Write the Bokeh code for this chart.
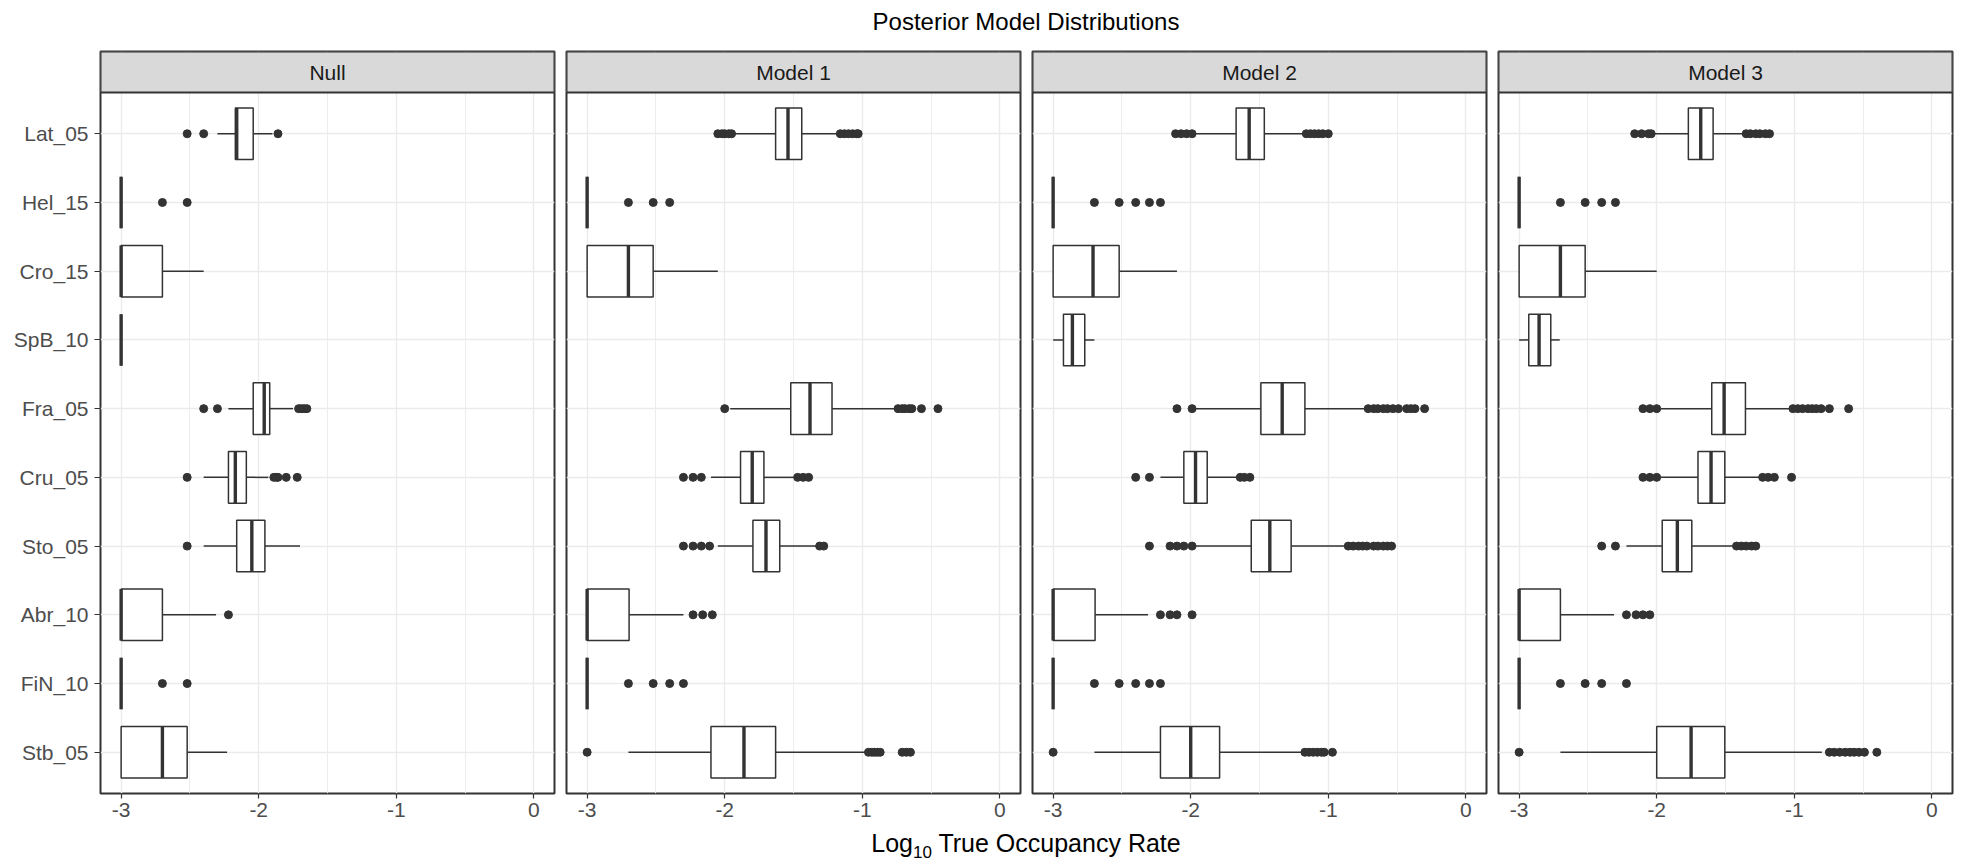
from bokeh.plotting import figure
from bokeh.models import FixedTicker, BoxAnnotation, Label, Div, Range1d
from bokeh.layouts import row, column
from bokeh.embed import file_html
from bokeh.resources import INLINE

# ---------------- data ----------------
categories = ["Lat_05", "Hel_15", "Cro_15", "SpB_10", "Fra_05",
              "Cru_05", "Sto_05", "Abr_10", "FiN_10", "Stb_05"]   # top -> bottom
models = ["Null", "Model 1", "Model 2", "Model 3"]
x_ticks = [-3, -2, -1, 0]
x_tick_labels = ["-3", "-2", "-1", "0"]
x_minor = [-2.5, -1.5, -0.5]

null_lo  = [-2.30, -3.00, -3.00, -3.00, -2.22, -2.40, -2.40, -3.00, -3.00, -3.00]
null_q1  = [-2.17, -3.00, -3.00, -3.00, -2.04, -2.22, -2.16, -3.00, -3.00, -3.00]
null_med = [-2.16, -3.00, -3.00, -3.00, -1.96, -2.17, -2.05, -3.00, -3.00, -2.70]
null_q3  = [-2.04, -3.00, -2.70, -3.00, -1.92, -2.09, -1.955, -2.70, -3.00, -2.52]
null_hi  = [-1.90, -3.00, -2.40, -3.00, -1.75, -1.93, -1.70, -2.31, -3.00, -2.23]
null_out = [[-2.52, -2.40, -1.86], [-2.70, -2.52], [], [],
            [-2.40, -2.30, -1.71, -1.69, -1.67, -1.65],
            [-2.52, -1.89, -1.87, -1.86, -1.80, -1.72], [-2.52], [-2.22],
            [-2.70, -2.52], []]

m1_lo  = [-1.94, -3.00, -3.00, None, -1.96, -2.10, -2.05, -3.00, -3.00, -2.70]
m1_q1  = [-1.63, -3.00, -3.00, None, -1.52, -1.885, -1.795, -3.00, -3.00, -2.10]
m1_med = [-1.54, -3.00, -2.70, None, -1.38, -1.80, -1.70, -3.00, -3.00, -1.86]
m1_q3  = [-1.44, -3.00, -2.52, None, -1.22, -1.715, -1.60, -2.695, -3.00, -1.63]
m1_hi  = [-1.17, -3.00, -2.05, None, -0.76, -1.49, -1.33, -2.30, -3.00, -0.97]
m1_out = [[-2.05, -2.02, -2.00, -1.97, -1.95, -1.16, -1.13, -1.10, -1.07, -1.04, -1.03],
          [-2.70, -2.52, -2.40], [], [],
          [-2.00, -0.74, -0.71, -0.69, -0.66, -0.64, -0.57, -0.45],
          [-2.30, -2.23, -2.17, -1.47, -1.43, -1.39],
          [-2.30, -2.23, -2.17, -2.11, -1.31, -1.28],
          [-2.23, -2.16, -2.09],
          [-2.70, -2.52, -2.40, -2.30],
          [-3.00, -0.955, -0.93, -0.91, -0.89, -0.87, -0.71, -0.68, -0.65]]

m2_lo  = [-1.98, -3.00, -3.00, -3.00, -1.98, -2.22, -1.98, -3.00, -3.00, -2.70]
m2_q1  = [-1.67, -3.00, -3.00, -2.925, -1.49, -2.05, -1.56, -3.00, -3.00, -2.22]
m2_med = [-1.575, -3.00, -2.71, -2.86, -1.335, -1.965, -1.425, -3.00, -3.00, -2.00]
m2_q3  = [-1.465, -3.00, -2.52, -2.77, -1.17, -1.88, -1.27, -2.695, -3.00, -1.79]
m2_hi  = [-1.17, -3.00, -2.10, -2.70, -0.71, -1.655, -0.87, -2.31, -3.00, -1.18]
m2_out = [[-2.11, -2.07, -2.03, -1.99, -1.16, -1.13, -1.10, -1.07, -1.04, -1.00],
          [-2.70, -2.52, -2.40, -2.30, -2.22], [], [],
          [-2.10, -1.99, -0.71, -0.67, -0.64, -0.60, -0.57, -0.53, -0.49,
           -0.43, -0.40, -0.37, -0.30],
          [-2.40, -2.30, -1.64, -1.61, -1.57],
          [-2.30, -2.15, -2.10, -2.05, -1.99, -0.855, -0.82, -0.78, -0.75, -0.72,
           -0.67, -0.64, -0.60, -0.57, -0.54],
          [-2.22, -2.15, -2.10, -1.99],
          [-2.70, -2.52, -2.40, -2.30, -2.22],
          [-3.00, -1.17, -1.14, -1.11, -1.08, -1.05, -1.03, -0.97]]

m3_lo  = [-2.015, -3.00, -3.00, -3.00, -1.97, -1.97, -2.22, -3.00, -3.00, -2.70]
m3_q1  = [-1.77, -3.00, -3.00, -2.93, -1.60, -1.70, -1.96, -3.00, -3.00, -2.00]
m3_med = [-1.68, -3.00, -2.70, -2.855, -1.51, -1.605, -1.85, -3.00, -3.00, -1.75]
m3_q3  = [-1.59, -3.00, -2.52, -2.77, -1.355, -1.505, -1.745, -2.70, -3.00, -1.505]
m3_hi  = [-1.36, -3.00, -2.00, -2.705, -1.02, -1.245, -1.44, -2.31, -3.00, -0.80]
m3_out = [[-2.16, -2.11, -2.06, -2.04, -1.35, -1.32, -1.28, -1.25, -1.21, -1.18],
          [-2.70, -2.52, -2.40, -2.30], [], [],
          [-2.10, -2.05, -2.00, -1.01, -0.975, -0.94, -0.90, -0.87, -0.84, -0.805,
           -0.745, -0.605],
          [-2.10, -2.05, -2.00, -1.23, -1.19, -1.145, -1.02],
          [-2.40, -2.30, -1.42, -1.385, -1.35, -1.31, -1.28],
          [-2.22, -2.15, -2.10, -2.05],
          [-2.70, -2.52, -2.40, -2.22],
          [-3.00, -0.745, -0.71, -0.67, -0.63, -0.595, -0.565, -0.53, -0.49, -0.40]]

stats = [
    (null_lo, null_q1, null_med, null_q3, null_hi, null_out),
    (m1_lo, m1_q1, m1_med, m1_q3, m1_hi, m1_out),
    (m2_lo, m2_q1, m2_med, m2_q3, m2_hi, m2_out),
    (m3_lo, m3_q1, m3_med, m3_q3, m3_hi, m3_out),
]

# ---------------- styling / layout ----------------
FONT = "Liberation Sans"
INK = "#333333"
GRID = "#EBEBEB"
FRAME_W = 454
PANEL_H = 701
STRIP_H = 41
BOX_W = 0.75
LBL = "21px"
n = len(categories)
ypos = [n - i for i in range(n)]          # Lat_05 at top
y_lo, y_hi = 0.4, n + 0.6
y_end = y_hi + STRIP_H * (y_hi - y_lo) / PANEL_H
ticker_x = FixedTicker(ticks=x_ticks, minor_ticks=x_minor)
ticker_y = FixedTicker(ticks=ypos)

borders = [(100, 6), (6, 6), (6, 6), (6, 14)]
figs = []
for k, (name, (lo, q1, med, q3, hi, outs)) in enumerate(zip(models, stats)):
    bl, br = borders[k]
    p = figure(frame_width=FRAME_W, frame_height=PANEL_H + STRIP_H,
               x_range=Range1d(-3.15, 0.15), y_range=Range1d(y_lo, y_end),
               min_border_left=bl, min_border_right=br,
               min_border_top=2, min_border_bottom=36,
               y_axis_location="left" if k == 0 else None,
               output_backend="svg", toolbar_location=None,
               background_fill_color="white", border_fill_color="white")
    p.outline_line_color = INK
    p.outline_line_width = 2
    p.outline_line_alpha = 1

    # grids
    p.xgrid.ticker = ticker_x
    p.xgrid.grid_line_color = GRID
    p.xgrid.grid_line_width = 1.4
    p.xgrid.minor_grid_line_color = GRID
    p.xgrid.minor_grid_line_width = 0.9
    p.ygrid.ticker = ticker_y
    p.ygrid.grid_line_color = GRID
    p.ygrid.grid_line_width = 1.4

    # x axis
    ax = p.xaxis[0]
    ax.ticker = ticker_x
    ax.major_label_overrides = dict(zip(x_ticks, x_tick_labels))
    ax.axis_line_color = None
    ax.major_tick_line_color = INK
    ax.major_tick_line_width = 1.2
    ax.major_tick_out = 5
    ax.major_tick_in = 0
    ax.minor_tick_line_color = None
    ax.major_label_standoff = 4
    ax.major_label_text_font = FONT
    ax.major_label_text_font_size = LBL
    ax.major_label_text_color = "#4D4D4D"

    if k == 0:
        ay = p.yaxis[0]
        ay.ticker = ticker_y
        ay.major_label_overrides = {ypos[i]: categories[i] for i in range(n)}
        ay.axis_line_color = None
        ay.major_tick_line_color = INK
        ay.major_tick_line_width = 1.2
        ay.major_tick_out = 6
        ay.major_tick_in = 0
        ay.minor_tick_line_color = None
        ay.major_label_standoff = 6
        ay.major_label_text_font = FONT
        ay.major_label_text_font_size = LBL
        ay.major_label_text_color = "#4D4D4D"

    # boxplot pieces
    idx = [i for i in range(n) if q1[i] is not None]
    ys = [ypos[i] for i in idx]
    p.segment(x0=[lo[i] for i in idx], y0=ys, x1=[q1[i] for i in idx], y1=ys,
              line_color=INK, line_width=1.5)
    p.segment(x0=[q3[i] for i in idx], y0=ys, x1=[hi[i] for i in idx], y1=ys,
              line_color=INK, line_width=1.5)
    p.hbar(y=ys, left=[q1[i] for i in idx], right=[q3[i] for i in idx],
           height=BOX_W, fill_color="white", line_color=INK, line_width=1.5)
    p.segment(x0=[med[i] for i in idx], x1=[med[i] for i in idx],
              y0=[y - BOX_W / 2 for y in ys], y1=[y + BOX_W / 2 for y in ys],
              line_color=INK, line_width=3.4)
    ox, oy = [], []
    for i in range(n):
        for v in outs[i]:
            ox.append(v)
            oy.append(ypos[i])
    p.scatter(x=ox, y=oy, size=8, fill_color=INK, line_color=INK)

    # facet strip
    p.add_layout(BoxAnnotation(bottom=y_hi, fill_color="#D9D9D9", fill_alpha=1,
                               line_color=INK, line_alpha=1, line_width=2))
    p.add_layout(Label(x=-1.5, y=(y_hi + y_end) / 2, text=name,
                       text_align="center", text_baseline="middle",
                       text_font=FONT, text_font_size=LBL,
                       text_color="#1A1A1A"))
    figs.append(p)

title = Div(text=(f'<div style="width:1852px;margin-left:100px;text-align:center;'
                  f'font-family:\'{FONT}\';font-size:24px;line-height:44px;color:black;">'
                  'Posterior Model Distributions</div>'),
            width=1966, height=49, margin=0)
xlabel = Div(text=(f'<div style="width:1852px;margin-left:100px;text-align:center;'
                   f'font-family:\'{FONT}\';font-size:25px;line-height:28px;color:black;">'
                   'Log<span style="font-size:17px;position:relative;top:6px;">10</span>'
                   ' True Occupancy Rate</div>'),
             width=1966, height=34, margin=0)

layout = column(title, row(*figs), xlabel)
open("out.html", "w").write(file_html(layout, INLINE))
